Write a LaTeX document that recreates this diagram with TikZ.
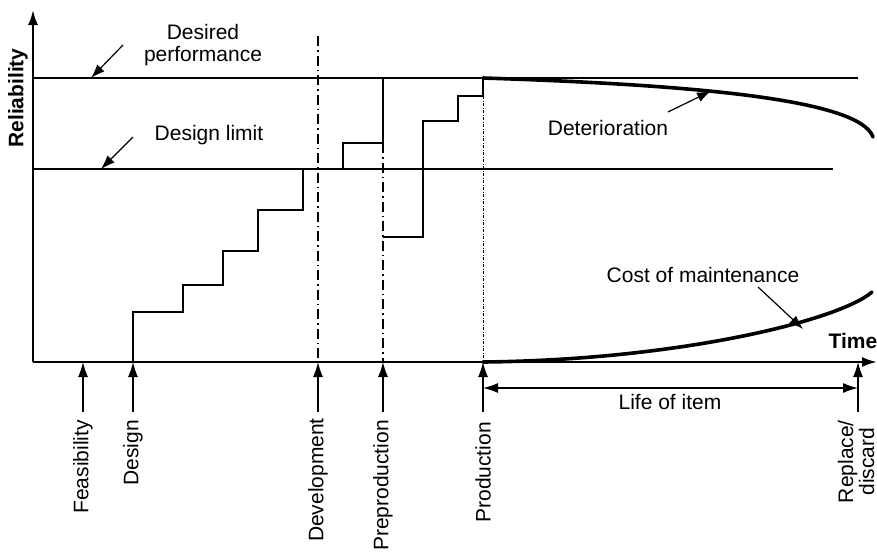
\documentclass[tikz,border=0pt]{standalone}
\usepackage{fontspec}
\setmainfont{Liberation Sans}
\usetikzlibrary{arrows.meta}
\begin{document}
\begin{tikzpicture}[x=1pt,y=-1pt,
  lbl/.style={font=\fontsize{21}{24}\selectfont, inner sep=0pt},
  blbl/.style={font=\fontsize{21}{24}\selectfont\bfseries, inner sep=0pt},
  vlbl/.style={lbl, rotate=90, anchor=east},
  axisline/.style={line width=2.2pt, -{Latex[length=15pt,width=10pt]}},
  refline/.style={line width=1.2pt},
  stairline/.style={line width=2.5pt},
  thickcurve/.style={line width=3.6pt, line cap=round},
  dashdot/.style={line width=1.2pt, dash pattern=on 10pt off 4pt on 1.5pt off 4pt},
  finedot/.style={line width=1pt, dash pattern=on 3pt off 1.5pt on 1pt off 1.5pt},
  ptr/.style={line width=1.2pt, -{Latex[length=14pt,width=10pt]}},
  tick/.style={line width=1.3pt, -{Latex[length=15pt,width=10pt]}},
  span/.style={line width=1.3pt, {Latex[length=15pt,width=10pt]}-{Latex[length=15pt,width=10pt]}}
]
\useasboundingbox (0,0) rectangle (877,552);

% axes
\coordinate (O) at (33,362);
\coordinate (ytop) at (33,10);
\coordinate (xend) at (877,362);
\draw[axisline] (O) -- (ytop);
\draw[axisline] (O) -- (xend);
\node[blbl, rotate=90] (rel) at (18,98) {Reliability};
\node[blbl] (time) at (853,341) {Time};

% reference lines
\coordinate (dp0) at (33,78);
\coordinate (dp1) at (858,78);
\coordinate (dl0) at (33,169);
\coordinate (dl1) at (833,169);
\draw[refline] (dp0) -- (dp1);
\draw[refline] (dl0) -- (dl1);

% phase lines
\coordinate (dev0) at (318,36);
\coordinate (dev1) at (318,362);
\coordinate (pre0) at (383,143);
\coordinate (pre1) at (383,362);
\coordinate (prod0) at (483,96);
\coordinate (prod1) at (483,362);
\draw[dashdot] (dev0) -- (dev1);
\draw[dashdot] (pre0) -- (pre1);
\draw[finedot] (prod0) -- (prod1);

% stairs
\draw[stairline] (133,362) -- (133,312) -- (183,312) -- (183,285) -- (223,285) -- (223,251)
  -- (258,251) -- (258,210) -- (303,210) -- (303,169) -- (343,169) -- (343,143)
  -- (383,143) -- (383,78);
\draw[stairline] (383,237) -- (423,237) -- (423,121) -- (458,121) -- (458,96)
  -- (483,96) -- (483,78);

% curves
\coordinate (detS) at (483,78);
\coordinate (detE) at (873,137);
\draw[thickcurve] (detS) .. controls (700,85) and (860,100) .. (detE);
\coordinate (costS) at (483,362);
\coordinate (costE) at (872,292);
\draw[thickcurve] (costS) .. controls (680,360) and (840,320) .. (costE);

% labels with pointers
\node[lbl, align=center] (desired) at (203,45) {Desired\\[-2pt]performance};
\coordinate (dpa) at (123,45);
\coordinate (dpb) at (91,78);
\draw[ptr] (dpa) -- (dpb);

\node[lbl] (dlim) at (209,135) {Design limit};
\coordinate (dla) at (133,137);
\coordinate (dlb) at (101,169);
\draw[ptr] (dla) -- (dlb);

\node[lbl] (det) at (608,128) {Deterioration};
\coordinate (deta) at (668,112);
\coordinate (detb) at (711,91);
\draw[ptr] (deta) -- (detb);

\node[lbl] (cost) at (703,275) {Cost of maintenance};
\coordinate (costa) at (758,287);
\coordinate (costb) at (803,329);
\draw[ptr] (costa) -- (costb);

% phase ticks
\foreach \nm/\xx in {fea/83, des/133, dev/318, pre/383, prod/483, rep/858}{
  \coordinate (\nm t) at (\xx,412);
  \coordinate (\nm h) at (\xx,362);
  \draw[tick] (\nm t) -- (\nm h);
}
\node[vlbl] (feasibility) at (83,420) {Feasibility};
\node[vlbl] (design) at (133,420) {Design};
\node[vlbl] (development) at (318,418) {Development};
\node[vlbl] (preproduction) at (383,420) {Preproduction};
\node[vlbl] (production) at (483,422) {Production};
\node[vlbl, align=center] (replace) at (856,420) {Replace/\\[-3pt]discard};

% life of item
\coordinate (lifeA) at (483,388);
\coordinate (lifeB) at (858,388);
\draw[span] (lifeA) -- (lifeB);
\node[lbl] (life) at (670,402) {Life of item};
\end{tikzpicture}
\end{document}
